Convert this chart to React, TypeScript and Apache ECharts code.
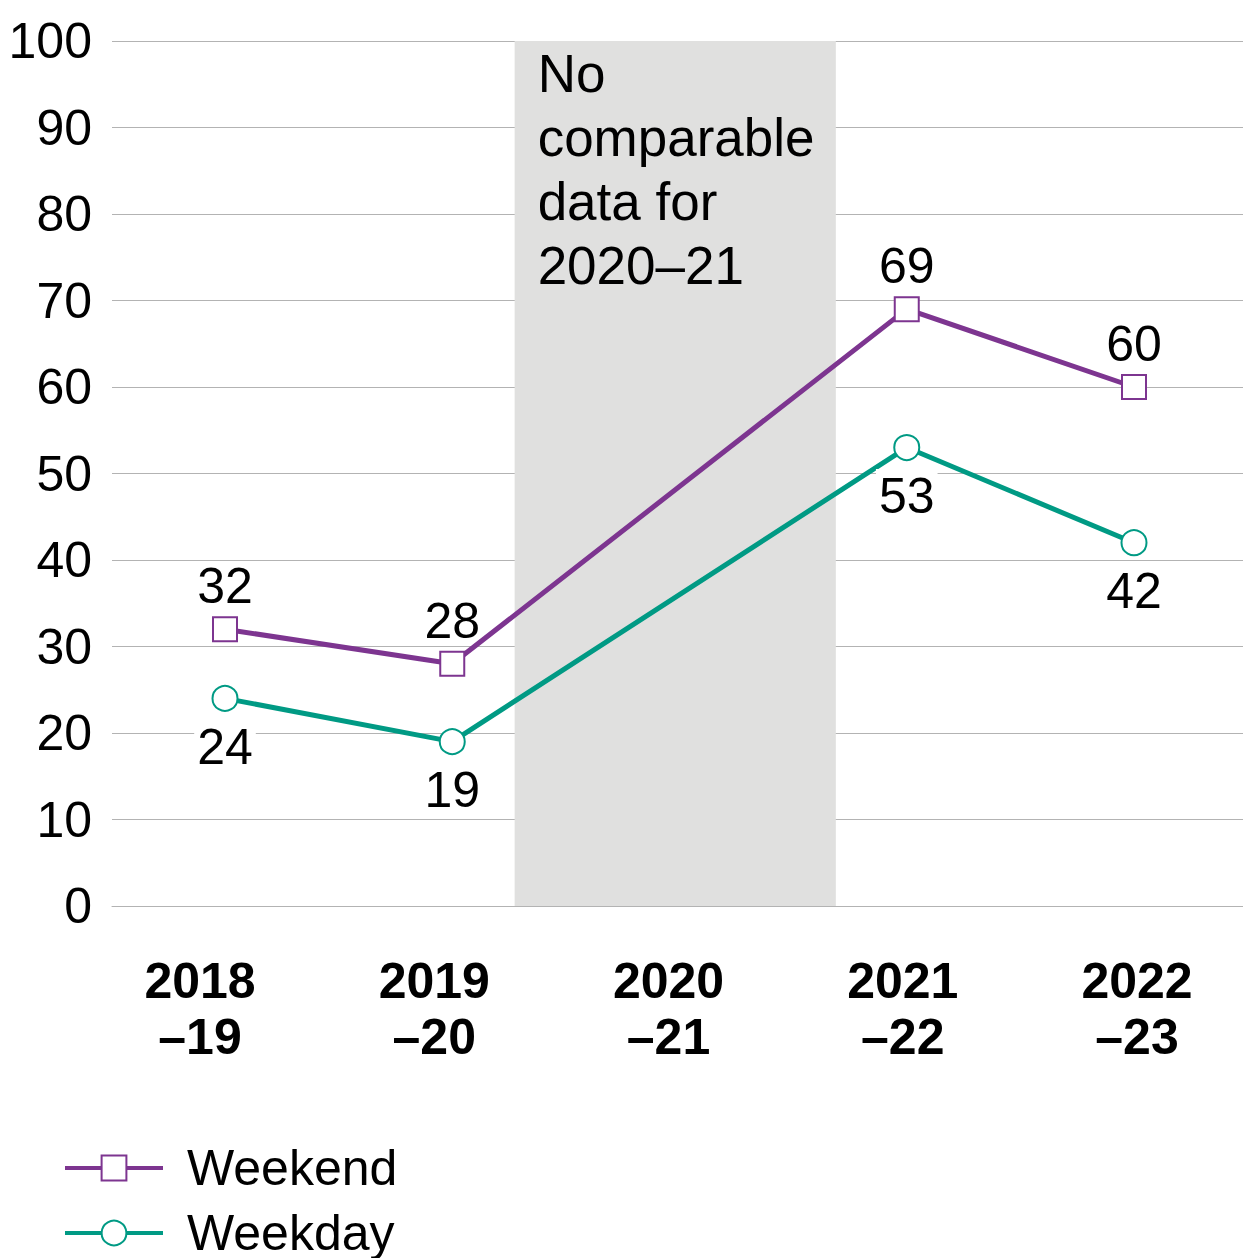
import React, { useEffect, useRef } from "react";
import * as echarts from "echarts";

const categories = ["2018\n–19", "2019\n–20", "2020\n–21", "2021\n–22", "2022\n–23"];
const weekend = [32, 28, null, 69, 60];
const weekday = [24, 19, null, 53, 42];
const bandRange = [1.28, 2.7];
const bandText = "No\ncomparable\ndata for\n2020–21";

const FONT = "'Liberation Sans', Arial, Helvetica, sans-serif";
const PURPLE = "#7D3590";
const TEAL = "#009A84";

const legendBase = {
  orient: "vertical",
  left: 63,
  padding: 0,
  itemWidth: 98,
  itemHeight: 31,
  lineStyle: { width: 4 },
  itemStyle: { borderWidth: 2.5 },
  textStyle: { fontSize: 50, color: "#000", fontFamily: FONT, lineHeight: 50, padding: [0, 0, 0, 19] },
};

export default function App() {
  const ref = useRef<HTMLDivElement>(null);
  useEffect(() => {
    const chart = echarts.init(ref.current!, null, { renderer: "svg" });
    chart.setOption({
      animation: false,
      textStyle: { fontFamily: FONT },
      grid: [
        { left: 112, top: 41, right: 0, bottom: 352, containLabel: false },
        { left: 200, top: 41, width: 937, bottom: 352, containLabel: false },
        { left: 225, top: 41, width: 909, bottom: 352, containLabel: false },
      ],
      legend: [
        { ...legendBase, top: 1143, data: ["Weekend"] },
        { ...legendBase, top: 1208, data: ["Weekday"] },
      ],
      xAxis: [
        {
          type: "value",
          gridIndex: 0,
          min: -0.5,
          max: 4.5,
          z: 5,
          axisLine: { show: true, lineStyle: { color: "#b3b3b3", width: 1 } },
          axisTick: { show: false },
          axisLabel: { show: false },
          splitLine: { show: false },
        },
        {
          type: "category",
          gridIndex: 1,
          data: categories,
          boundaryGap: false,
          axisLine: { show: false },
          axisTick: { show: false },
          splitLine: { show: false },
          axisLabel: {
            fontSize: 50,
            fontWeight: "bold",
            color: "#000",
            lineHeight: 56,
            margin: 47,
            fontFamily: FONT,
          },
        },
        {
          type: "category",
          gridIndex: 2,
          data: categories,
          boundaryGap: false,
          show: false,
        },
      ],
      yAxis: [
        {
          type: "value",
          gridIndex: 0,
          min: 0,
          max: 100,
          interval: 10,
          axisLine: { show: false },
          axisTick: { show: false },
          axisLabel: { fontSize: 50, color: "#000", margin: 20, fontFamily: FONT, padding: [0, 0, 12, 0] },
          splitLine: { lineStyle: { color: "#b3b3b3", width: 1 } },
        },
        { type: "value", gridIndex: 1, min: 0, max: 100, show: false, splitLine: { show: false } },
        { type: "value", gridIndex: 2, min: 0, max: 100, show: false, splitLine: { show: false } },
      ],
      series: [
        {
          type: "line",
          name: "band",
          xAxisIndex: 0,
          yAxisIndex: 0,
          data: [],
          silent: true,
          markArea: {
            silent: true,
            itemStyle: { color: "#e0e0df" },
            label: {
              show: true,
              position: "insideTopLeft",
              distance: 0,
              offset: [23, 0],
              formatter: bandText,
              fontSize: 53,
              lineHeight: 64,
              color: "#000",
              fontFamily: FONT,
            },
            data: [[{ xAxis: bandRange[0] }, { xAxis: bandRange[1] }]],
          },
        },
        {
          type: "line",
          name: "Weekend",
          xAxisIndex: 2,
          yAxisIndex: 2,
          data: weekend,
          connectNulls: true,
          symbol: "emptyRect",
          symbolSize: 24,
          color: PURPLE,
          lineStyle: { color: PURPLE, width: 5 },
          itemStyle: { color: PURPLE, borderColor: PURPLE, borderWidth: 2.5 },
          label: {
            show: true,
            position: "top",
            distance: 5,
            fontSize: 50,
            color: "#000",
            fontFamily: FONT,
          },
          z: 3,
        },
        {
          type: "line",
          name: "Weekday",
          xAxisIndex: 2,
          yAxisIndex: 2,
          data: weekday,
          connectNulls: true,
          symbol: "emptyCircle",
          symbolSize: 25,
          color: TEAL,
          lineStyle: { color: TEAL, width: 5 },
          itemStyle: { color: TEAL, borderColor: TEAL, borderWidth: 2.5 },
          label: {
            show: true,
            position: "bottom",
            distance: 8,
            fontSize: 50,
            color: "#000",
            fontFamily: FONT,
            backgroundColor: "#fff",
            padding: [2, 3],
          },
          z: 3,
        },
      ],
    });
    return () => chart.dispose();
  }, []);
  return <div ref={ref} style={{ width: 1243, height: 1258, position: "absolute", left: 0, top: 0 }} />;
}
